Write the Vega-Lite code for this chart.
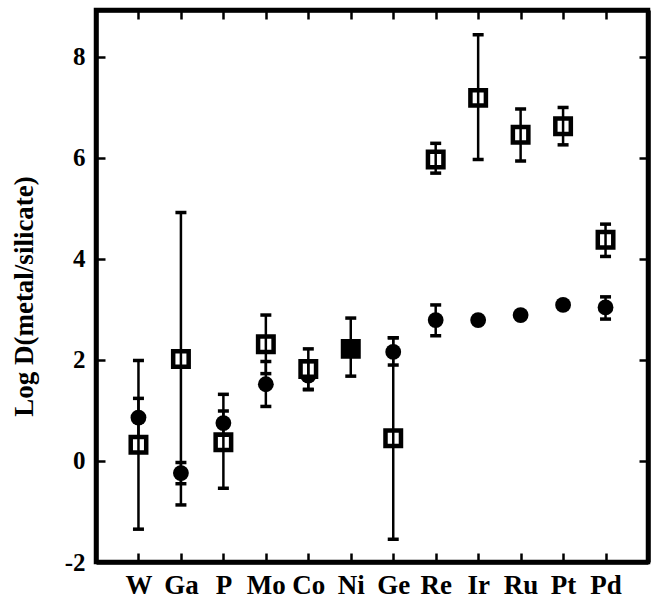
{
  "$schema": "https://vega.github.io/schema/vega-lite/v6.json",
  "width": 552,
  "height": 552,
  "autosize": "none",
  "padding": {"left": 96, "top": 10, "right": 5, "bottom": 38},
  "background": "white",
  "view": {"stroke": "black", "strokeWidth": 4.5},
  "config": {
    "view": {"stroke": "black", "strokeWidth": 4.5},
    "font": "Liberation Serif"
  },
  "data": {
    "values": [
      {"elem": "W", "series": "experiment", "value": 0.86, "lo": 0.48, "hi": 1.24},
      {"elem": "Ga", "series": "experiment", "value": -0.24, "lo": -0.45, "hi": -0.03},
      {"elem": "P", "series": "experiment", "value": 0.75, "lo": 0.51, "hi": 0.99},
      {"elem": "Mo", "series": "experiment", "value": 1.52, "lo": 1.08, "hi": 1.97},
      {"elem": "Co", "series": "experiment", "value": 1.69, "lo": 1.41, "hi": 1.97},
      {"elem": "Ge", "series": "experiment", "value": 2.16, "lo": 1.9, "hi": 2.44},
      {"elem": "Re", "series": "experiment", "value": 2.79, "lo": 2.48, "hi": 3.09},
      {"elem": "Ir", "series": "experiment", "value": 2.79},
      {"elem": "Ru", "series": "experiment", "value": 2.89},
      {"elem": "Pt", "series": "experiment", "value": 3.09},
      {"elem": "Pd", "series": "experiment", "value": 3.04, "lo": 2.81, "hi": 3.25},
      {"elem": "W", "series": "model", "value": 0.32, "lo": -1.35, "hi": 1.99},
      {"elem": "Ga", "series": "model", "value": 2.02, "lo": -0.87, "hi": 4.92},
      {"elem": "P", "series": "model", "value": 0.37, "lo": -0.54, "hi": 1.32},
      {"elem": "Mo", "series": "model", "value": 2.31, "lo": 1.73, "hi": 2.89},
      {"elem": "Co", "series": "model", "value": 1.82, "lo": 1.42, "hi": 2.22},
      {"elem": "Ni", "series": "both", "value": 2.22, "lo": 1.68, "hi": 2.83},
      {"elem": "Ge", "series": "model", "value": 0.45, "lo": -1.55, "hi": 2.44},
      {"elem": "Re", "series": "model", "value": 5.97, "lo": 5.7, "hi": 6.29},
      {"elem": "Ir", "series": "model", "value": 7.19, "lo": 5.97, "hi": 8.44},
      {"elem": "Ru", "series": "model", "value": 6.46, "lo": 5.94, "hi": 6.97},
      {"elem": "Pt", "series": "model", "value": 6.63, "lo": 6.26, "hi": 7.0},
      {"elem": "Pd", "series": "model", "value": 4.38, "lo": 4.05, "hi": 4.69}
    ]
  },
  "resolve": {"axis": {"x": "independent", "y": "independent"}},
  "layer": [
    {
      "transform": [{"filter": "datum.series === 'experiment'"}],
      "mark": {"type": "point", "shape": "circle", "filled": true, "color": "black", "size": 250, "opacity": 1},
      "encoding": {
        "x": {
          "field": "elem", "type": "nominal",
          "sort": ["W", "Ga", "P", "Mo", "Co", "Ni", "Ge", "Re", "Ir", "Ru", "Pt", "Pd"],
          "scale": {"type": "point", "padding": 1},
          "axis": {
            "orient": "bottom", "title": null, "domain": true, "domainWidth": 4.5, "domainColor": "black", "grid": false,
            "labelAngle": 0, "labelFont": "Liberation Serif", "labelFontSize": 27,
            "labelFontWeight": "bold", "labelColor": "black", "labelPadding": 19,
            "tickSize": -9, "tickWidth": 2.5, "tickColor": "black"
          }
        },
        "y": {
          "field": "value", "type": "quantitative",
          "scale": {"domain": [-2, 8.93], "nice": false, "zero": false},
          "axis": {
            "orient": "left", "values": [-2, 0, 2, 4, 6, 8],
            "labelExpr": "replace(datum.label, '\u2212', '-')",
            "title": "Log D(metal/silicate)", "titleFont": "Liberation Serif",
            "titleFontSize": 27, "titleFontWeight": "bold", "titleColor": "black",
            "titleX": -64, "titleY": 286, "titleBaseline": "alphabetic", "titleAlign": "center", "titleAngle": -90,
            "domain": true, "domainWidth": 4.5, "domainColor": "black", "grid": false,
            "labelFont": "Liberation Serif", "labelFontSize": 25, "labelFontWeight": "bold",
            "labelColor": "black", "labelPadding": 20,
            "tickSize": -9, "tickWidth": 2.5, "tickColor": "black"
          }
        }
      }
    },
    {
      "transform": [{"filter": "datum.series === 'model'"}],
      "mark": {"type": "point", "shape": "square", "filled": false, "fill": "white", "fillOpacity": 1, "stroke": "black", "strokeWidth": 4.5, "size": 240, "opacity": 1},
      "encoding": {
        "x": {"field": "elem", "type": "nominal", "sort": ["W", "Ga", "P", "Mo", "Co", "Ni", "Ge", "Re", "Ir", "Ru", "Pt", "Pd"], "axis": null},
        "y": {"field": "value", "type": "quantitative", "axis": null}
      }
    },
    {
      "transform": [{"filter": "datum.series === 'both'"}],
      "mark": {"type": "point", "shape": "square", "filled": true, "color": "black", "stroke": "black", "strokeWidth": 4.5, "size": 240, "opacity": 1},
      "encoding": {
        "x": {"field": "elem", "type": "nominal", "sort": ["W", "Ga", "P", "Mo", "Co", "Ni", "Ge", "Re", "Ir", "Ru", "Pt", "Pd"], "axis": null},
        "y": {"field": "value", "type": "quantitative", "axis": null}
      }
    },
    {
      "transform": [{"filter": "isValid(datum.lo)"}],
      "mark": {"type": "rule", "strokeWidth": 2.5, "color": "black"},
      "encoding": {
        "x": {
          "field": "elem", "type": "nominal",
          "sort": ["W", "Ga", "P", "Mo", "Co", "Ni", "Ge", "Re", "Ir", "Ru", "Pt", "Pd"],
          "axis": {
            "orient": "top", "title": null, "labels": false, "domain": true, "domainWidth": 4.5, "domainColor": "black", "grid": false,
            "tickSize": -9, "tickWidth": 2.5, "tickColor": "black"
          }
        },
        "y": {
          "field": "lo", "type": "quantitative",
          "axis": {
            "orient": "right", "values": [-2, 0, 2, 4, 6, 8], "title": null, "labels": false,
            "domain": true, "domainWidth": 4.5, "domainColor": "black", "grid": false, "tickSize": -9, "tickWidth": 2.5, "tickColor": "black"
          }
        },
        "y2": {"field": "hi"}
      }
    },
    {
      "transform": [{"filter": "isValid(datum.lo)"}],
      "mark": {"type": "tick", "size": 11, "thickness": 3.5, "color": "black", "opacity": 1},
      "encoding": {
        "x": {"field": "elem", "type": "nominal", "sort": ["W", "Ga", "P", "Mo", "Co", "Ni", "Ge", "Re", "Ir", "Ru", "Pt", "Pd"], "axis": null},
        "y": {"field": "lo", "type": "quantitative", "axis": null}
      }
    },
    {
      "transform": [{"filter": "isValid(datum.hi)"}],
      "mark": {"type": "tick", "size": 11, "thickness": 3.5, "color": "black", "opacity": 1},
      "encoding": {
        "x": {"field": "elem", "type": "nominal", "sort": ["W", "Ga", "P", "Mo", "Co", "Ni", "Ge", "Re", "Ir", "Ru", "Pt", "Pd"], "axis": null},
        "y": {"field": "hi", "type": "quantitative", "axis": null}
      }
    }
  ]
}
